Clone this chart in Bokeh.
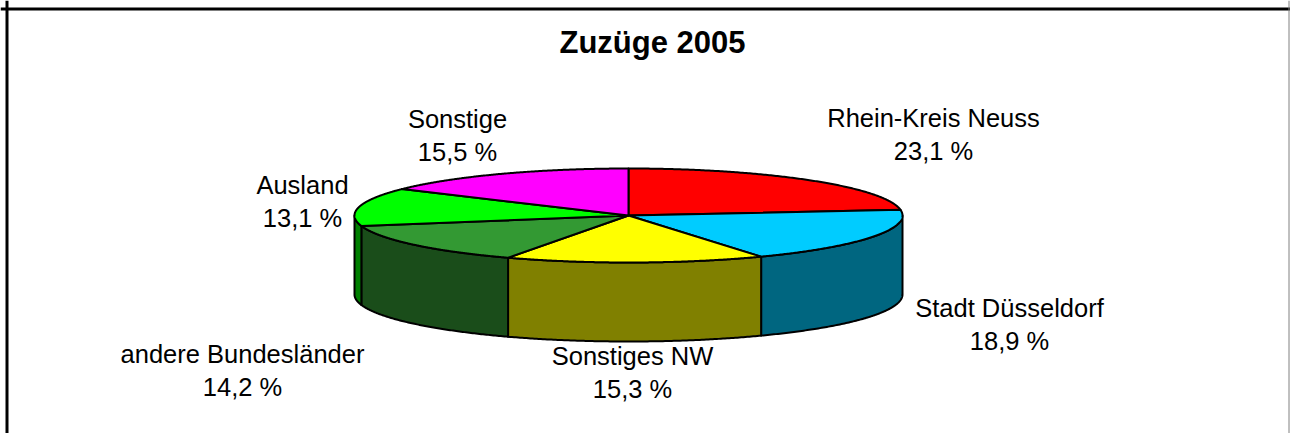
import numpy as np
from bokeh.plotting import figure
from bokeh.models import Range1d, Span, Label, ColumnDataSource
from bokeh.core.properties import value
from bokeh.embed import file_html
from bokeh.resources import INLINE

# ---- data ----
title_text = "Zuzüge 2005"
categories = ["Rhein-Kreis Neuss", "Stadt Düsseldorf", "Sonstiges NW",
              "andere Bundesländer", "Ausland", "Sonstige"]
shares = [23.1, 18.9, 15.3, 14.2, 13.1, 15.5]

# ---- styles ----
top_colors = ["#FF0000", "#00CCFF", "#FFFF00", "#339933", "#00FF00", "#FF00FF"]
side_colors = ["#800000", "#006680", "#808000", "#1A4D1A", "#008000", "#800080"]

# ---- layout (pixel coordinates of the picture) ----
CX, CY, A, B, DEPTH = 628, 215, 274, 47, 79
label_x = [933, 1009, 632, 242, 302, 457]
label_y = [117, 307, 355, 353, 184, 118]
LINE_GAP = 33
FONT = "Liberation Sans"

W, H = 1290, 433
p = figure(width=W, height=H, x_range=Range1d(0, W), y_range=Range1d(H, 0),
           output_backend="svg", toolbar_location=None, min_border=0)
p.axis.visible = False
p.grid.visible = False
p.outline_line_color = None
p.background_fill_color = "white"
p.border_fill_color = "white"


def ell(theta_deg, dy=0.0):
    t = np.radians(theta_deg)
    return CX + A * np.sin(t), CY - B * np.cos(t) + dy


total = float(sum(shares))
bounds = np.concatenate([[0.0], np.cumsum(shares)]) / total * 360.0

# side walls (front half only)
sx, sy, sc = [], [], []
for i in range(len(shares)):
    s, e = max(bounds[i], 90.0), min(bounds[i + 1], 270.0)
    if e > s:
        th = np.linspace(s, e, 120)
        x1, y1 = ell(th)
        x2, y2 = ell(th[::-1], DEPTH)
        sx.append(list(np.concatenate([x1, x2])))
        sy.append(list(np.concatenate([y1, y2])))
        sc.append(side_colors[i])
p.patches(xs=sx, ys=sy, fill_color=sc, line_color="black", line_width=2,
          line_join="round")

# top wedges
tx, ty = [], []
for i in range(len(shares)):
    th = np.linspace(bounds[i], bounds[i + 1], 200)
    x, y = ell(th)
    tx.append([CX] + list(x))
    ty.append([CY] + list(y))
p.patches(xs=tx, ys=ty, fill_color=top_colors, line_color="black", line_width=2,
          line_join="round")

# labels
pct = [f"{v:.1f}".replace(".", ",") + " %" for v in shares]
src = ColumnDataSource(dict(x=label_x, y1=label_y,
                            y2=[v + LINE_GAP for v in label_y],
                            name=categories, pct=pct))
common = dict(text_align="center", text_baseline="alphabetic",
              text_font=value(FONT), text_font_size="25.5px", text_color="black")
p.text(x="x", y="y1", text="name", source=src, **common)
p.text(x="x", y="y2", text="pct", source=src, **common)

p.add_layout(Label(x=652, y=42, text=title_text, text_align="center",
                   text_baseline="alphabetic", text_font=FONT,
                   text_font_size="31px", text_font_style="bold",
                   text_color="black"))

# chart frame
p.add_layout(Span(location=8.5, dimension="width", line_color="black", line_width=3))
p.add_layout(Span(location=6.5, dimension="height", line_color="black", line_width=3))
p.add_layout(Span(location=W - 1.5, dimension="height", line_color="#808080", line_width=1))

open("out.html", "w").write(file_html(p, INLINE))
